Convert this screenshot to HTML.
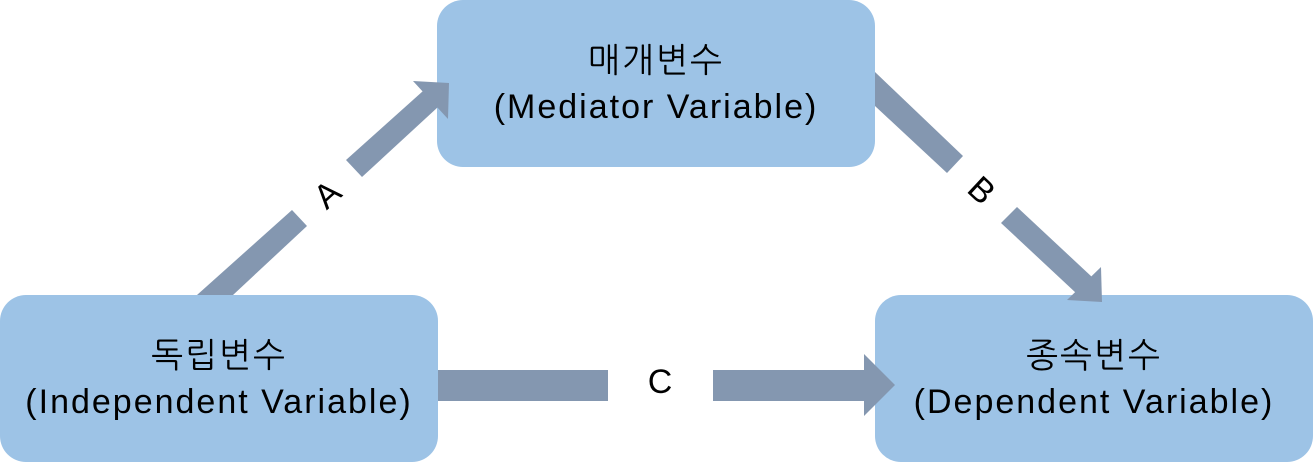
<!DOCTYPE html>
<html><head><meta charset="utf-8"><style>
body{margin:0;width:1313px;height:462px;background:#fff;overflow:hidden;position:relative;font-family:"Liberation Sans","NanumGothic",sans-serif}
.b{position:absolute;background:#9dc3e6;border-radius:26px;display:flex;flex-direction:column;justify-content:center;align-items:center;font-size:34px;letter-spacing:2px;line-height:46px;color:#000;text-align:center}
svg{position:absolute;left:0;top:0}
</style></head><body>
<div class="b" style="left:437px;top:0;width:438px;height:167px">매개변수<br>(Mediator Variable)</div>
<div class="b" style="left:0;top:295px;width:438px;height:167px">독립변수<br>(Independent Variable)</div>
<div class="b" style="left:875px;top:295px;width:438px;height:167px">종속변수<br>(Dependent Variable)</div>
<svg width="1313" height="462">
<g fill="#8497b0" stroke="none">
<polygon points="197,295 233,295 307,226 292,210"/>
<polygon points="346,160 362,177 438,107 423,91"/>
<polygon points="413,81 449,83 448,119"/>
<polygon points="875,72 963,156 947,173 875,106"/>
<polygon points="1001,223 1017,207 1092,277 1076,293"/>
<polygon points="1101,267 1102,302 1067,300"/>
<rect x="438" y="370" width="170" height="31"/>
<rect x="713" y="370" width="152" height="31"/>
<polygon points="864,354 895,385 864,416"/>
</g>
<g font-family="Liberation Sans, sans-serif" font-size="34" fill="#000" text-anchor="middle">
<text x="0" y="0" transform="translate(327,194) rotate(-42)" dy="12">A</text>
<text x="0" y="0" transform="translate(982,190) rotate(43)" dy="12">B</text>
<text x="660" y="393">C</text>
</g>
</svg>
</body></html>
